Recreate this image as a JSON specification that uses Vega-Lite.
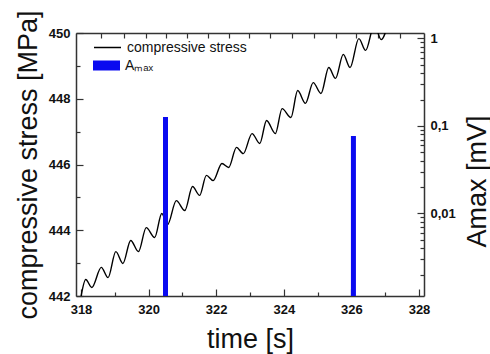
{
  "$schema": "https://vega.github.io/schema/vega-lite/v6.json",
  "width": 348,
  "height": 263,
  "autosize": {"type": "none"},
  "padding": {"left": 76, "top": 33, "right": 66, "bottom": 58},
  "background": "white",
  "config": {
    "view": {"stroke": null},
    "font": "Liberation Sans",
    "axis": {
      "grid": false,
      "domainColor": "#333333",
      "domainWidth": 1.5,
      "tickColor": "#333333",
      "tickWidth": 1.2,
      "labelFont": "Liberation Sans",
      "labelFontWeight": "bold",
      "labelFontSize": 13,
      "labelColor": "#111111",
      "titleFont": "Liberation Sans",
      "titleFontWeight": "normal",
      "titleFontSize": 27,
      "titleColor": "#111111"
    },
    "legend": {
      "labelFont": "Liberation Sans",
      "labelFontSize": 14,
      "labelColor": "#111111",
      "padding": 0
    }
  },
  "datasets": {
    "stress": [
      {"t": 318.00, "stress": 441.98},
      {"t": 318.14, "stress": 442.50},
      {"t": 318.32, "stress": 442.26},
      {"t": 318.60, "stress": 442.87},
      {"t": 318.80, "stress": 442.56},
      {"t": 319.03, "stress": 443.35},
      {"t": 319.24, "stress": 442.99},
      {"t": 319.47, "stress": 443.69},
      {"t": 319.70, "stress": 443.35},
      {"t": 319.93, "stress": 444.08},
      {"t": 320.18, "stress": 443.78},
      {"t": 320.39, "stress": 444.51},
      {"t": 320.56, "stress": 444.17},
      {"t": 320.82, "stress": 444.90},
      {"t": 321.07, "stress": 444.60},
      {"t": 321.30, "stress": 445.33},
      {"t": 321.51, "stress": 445.06},
      {"t": 321.71, "stress": 445.67},
      {"t": 321.91, "stress": 445.51},
      {"t": 322.17, "stress": 446.03},
      {"t": 322.37, "stress": 445.91},
      {"t": 322.60, "stress": 446.52},
      {"t": 322.80, "stress": 446.33},
      {"t": 323.06, "stress": 446.94},
      {"t": 323.29, "stress": 446.64},
      {"t": 323.49, "stress": 447.34},
      {"t": 323.75, "stress": 446.94},
      {"t": 323.95, "stress": 447.70},
      {"t": 324.21, "stress": 447.43},
      {"t": 324.41, "stress": 448.25},
      {"t": 324.64, "stress": 447.86},
      {"t": 324.87, "stress": 448.49},
      {"t": 325.10, "stress": 448.16},
      {"t": 325.33, "stress": 448.95},
      {"t": 325.53, "stress": 448.62},
      {"t": 325.76, "stress": 449.35},
      {"t": 325.96, "stress": 448.95},
      {"t": 326.22, "stress": 449.83},
      {"t": 326.42, "stress": 449.47},
      {"t": 326.68, "stress": 450.25},
      {"t": 326.88, "stress": 449.80},
      {"t": 327.10, "stress": 450.35}
    ],
    "amax": [
      {"t": 320.50, "amax": 0.127},
      {"t": 326.06, "amax": 0.0769}
    ]
  },
  "layer": [
    {
      "data": {"name": "stress"},
      "mark": {"type": "line", "strokeWidth": 1.4, "clip": true, "interpolate": "monotone"},
      "encoding": {
        "x": {
          "field": "t",
          "type": "quantitative",
          "scale": {"domain": [318, 328], "nice": false, "zero": false},
          "axis": {
            "orient": "bottom",
            "title": "time [s]",
            "values": [318, 319, 320, 321, 322, 323, 324, 325, 326, 327, 328],
            "labelExpr": "datum.value % 2 == 0 ? datum.label : ''",
            "tickSize": {"condition": {"test": "datum.value % 2 == 0", "value": -7}, "value": -4},
            "labelPadding": 14,
            "titleY": 51,
            "titleBaseline": "alphabetic"
          }
        },
        "y": {
          "field": "stress",
          "type": "quantitative",
          "scale": {"domain": [442, 450], "nice": false, "zero": false},
          "axis": {
            "orient": "left",
            "title": "compressive stress [MPa]",
            "values": [442, 443, 444, 445, 446, 447, 448, 449, 450],
            "labelExpr": "datum.value % 2 == 0 ? datum.label : ''",
            "tickSize": {"condition": {"test": "datum.value % 2 == 0", "value": -7}, "value": -4},
            "labelPadding": 13,
            "titleAngle": 270,
            "titleX": -40,
            "titleY": 131.5,
            "titleBaseline": "alphabetic"
          }
        },
        "stroke": {
          "datum": "compressive stress",
          "scale": {"range": ["#000000"]},
          "legend": {
            "orient": "none",
            "legendX": 17,
            "legendY": 0,
            "title": null,
            "symbolType": "stroke",
            "symbolSize": 729,
            "symbolStrokeWidth": 1.5,
            "labelOffset": 5
          }
        }
      }
    },
    {
      "data": {"name": "amax"},
      "mark": {"type": "bar", "size": 5, "clip": true},
      "encoding": {
        "x": {
          "field": "t",
          "type": "quantitative",
          "axis": {
            "orient": "top",
            "title": null,
            "labels": false,
            "values": [318.60, 319.26, 319.93, 320.50, 321.13, 321.76, 322.37, 322.97, 323.60, 324.24, 324.90, 325.53, 326.13, 326.79, 327.43],
            "tickSize": -5
          }
        },
        "y": {
          "field": "amax",
          "type": "quantitative",
          "scale": {"type": "log", "domain": [0.00114, 1.155], "nice": false},
          "axis": {
            "orient": "right",
            "title": "Amax [mV]",
            "values": [0.002, 0.003, 0.004, 0.005, 0.006, 0.007, 0.008, 0.009, 0.01, 0.02, 0.03, 0.04, 0.05, 0.06, 0.07, 0.08, 0.09, 0.1, 0.2, 0.3, 0.4, 0.5, 0.6, 0.7, 0.8, 0.9, 1],
            "labelExpr": "datum.value == 1 ? '1' : datum.value == 0.1 ? '0,1' : datum.value == 0.01 ? '0,01' : ''",
            "tickSize": {"condition": {"test": "datum.value == 1 || datum.value == 0.1 || datum.value == 0.01", "value": -7}, "value": -4},
            "labelPadding": 13,
            "titleAngle": 270,
            "titleX": 61,
            "titleY": 148,
            "titleBaseline": "alphabetic"
          }
        },
        "y2": {"datum": 0.00114},
        "fill": {
          "datum": "Aₘₐₓ",
          "scale": {"range": ["#0a0af0"]},
          "legend": {
            "orient": "none",
            "legendX": 17,
            "legendY": 19,
            "title": null,
            "symbolType": "M-1,-0.37H1V0.37H-1Z",
            "symbolSize": 729,
            "symbolStrokeWidth": 0,
            "labelOffset": 5
          }
        }
      }
    }
  ],
  "resolve": {
    "scale": {"y": "independent"},
    "axis": {"x": "independent", "y": "independent"}
  }
}
